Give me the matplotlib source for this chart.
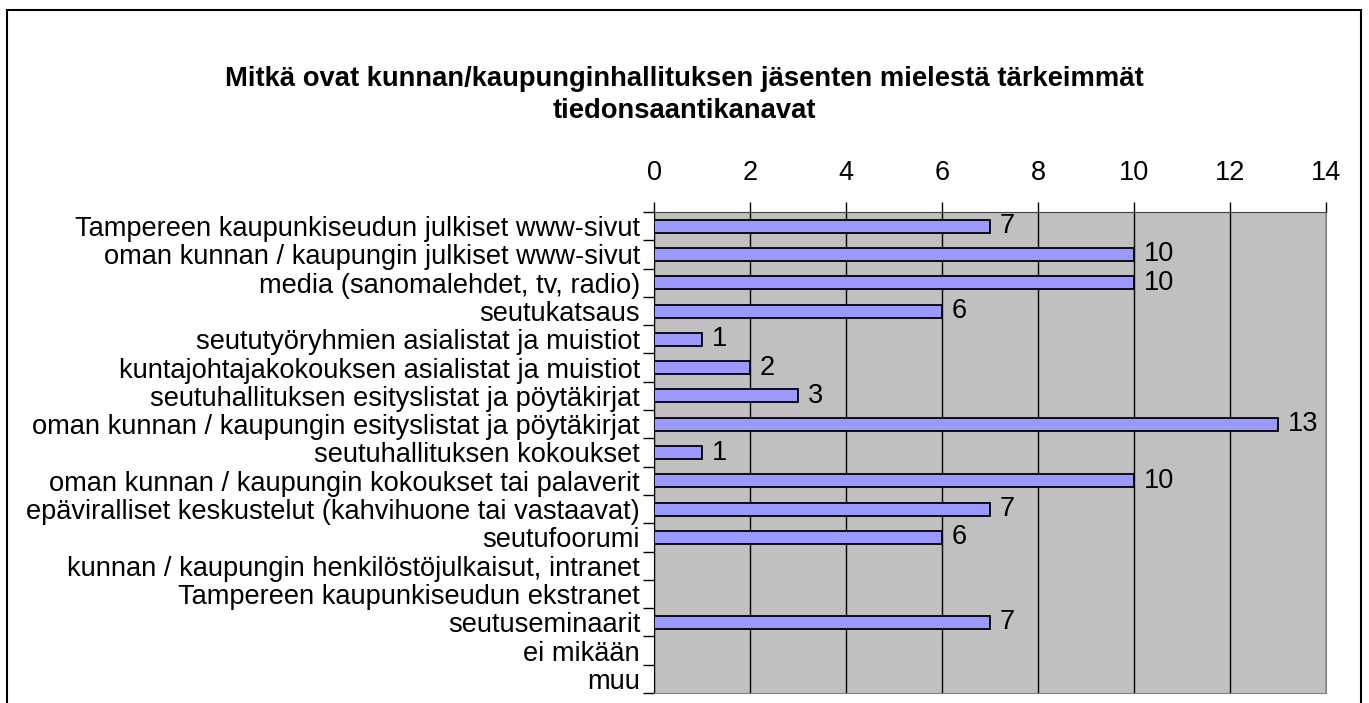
import matplotlib.pyplot as plt
from matplotlib.patches import Rectangle
import numpy as np

plt.rcParams['font.family'] = ['Liberation Sans', 'DejaVu Sans']

categories = [
    "Tampereen kaupunkiseudun julkiset www-sivut",
    "oman kunnan / kaupungin julkiset www-sivut",
    "media (sanomalehdet, tv, radio)",
    "seutukatsaus",
    "seututyöryhmien asialistat ja muistiot",
    "kuntajohtajakokouksen asialistat ja muistiot",
    "seutuhallituksen esityslistat ja pöytäkirjat",
    "oman kunnan / kaupungin esityslistat ja pöytäkirjat",
    "seutuhallituksen kokoukset",
    "oman kunnan / kaupungin kokoukset tai palaverit",
    "epäviralliset keskustelut (kahvihuone tai vastaavat)",
    "seutufoorumi",
    "kunnan / kaupungin henkilöstöjulkaisut, intranet",
    "Tampereen kaupunkiseudun ekstranet",
    "seutuseminaarit",
    "ei mikään",
    "muu",
]
values = [7, 10, 10, 6, 1, 2, 3, 13, 1, 10, 7, 6, 0, 0, 7, 0, 0]
title = "Mitkä ovat kunnan/kaupunginhallituksen jäsenten mielestä tärkeimmät\ntiedonsaantikanavat"

fig = plt.figure(figsize=(13.69, 7.03), dpi=100)
# outer chart frame (bottom edge is cut off in the reference)
fig.patches.append(Rectangle((7 / 1369, -0.1), (1361 - 7) / 1369, 1 - 10 / 703 + 0.1,
                             transform=fig.transFigure, fill=False, edgecolor='black', lw=1.5))

ax = fig.add_axes([654 / 1369, 1 - 693 / 703, (1326 - 654) / 1369, (693 - 212) / 703])
ax.set_facecolor('#C0C0C0')

n = len(categories)
y = np.arange(n)
ax.barh(y, values, height=0.46, color='#9999FF', edgecolor='black', linewidth=1.3, zorder=3)
for yi, v in zip(y, values):
    if v > 0:
        ax.text(v + 0.2, yi, str(v), va='center', ha='left', fontsize=19.5, zorder=4)

ax.set_xlim(0, 14)
ax.set_ylim(n - 0.5, -0.5)
ax.set_xticks(np.arange(0, 15, 2))
ax.xaxis.tick_top()
ax.tick_params(axis='x', which='major', direction='out', length=7, width=1,
               labelsize=19.5, pad=12, colors='black')
ax.grid(axis='x', color='black', lw=1, zorder=1)

ax.set_yticks(y)
ax.set_yticklabels(categories, fontsize=19.6)
ax.tick_params(axis='y', which='major', length=0, pad=10)
ax.set_yticks(np.arange(-0.5, n, 1), minor=True)
ax.tick_params(axis='y', which='minor', direction='out', length=8, width=1, color='black')

ax.spines['left'].set_color('black')
ax.spines['top'].set_color('#404040')
ax.spines['right'].set_color('#808080')
ax.spines['bottom'].set_color('#808080')

fig.text(0.5, 1 - 95 / 703, title, ha='center', va='center', fontsize=19.7,
         fontweight='bold', linespacing=1.25)

fig.savefig('out.png', dpi=100)
